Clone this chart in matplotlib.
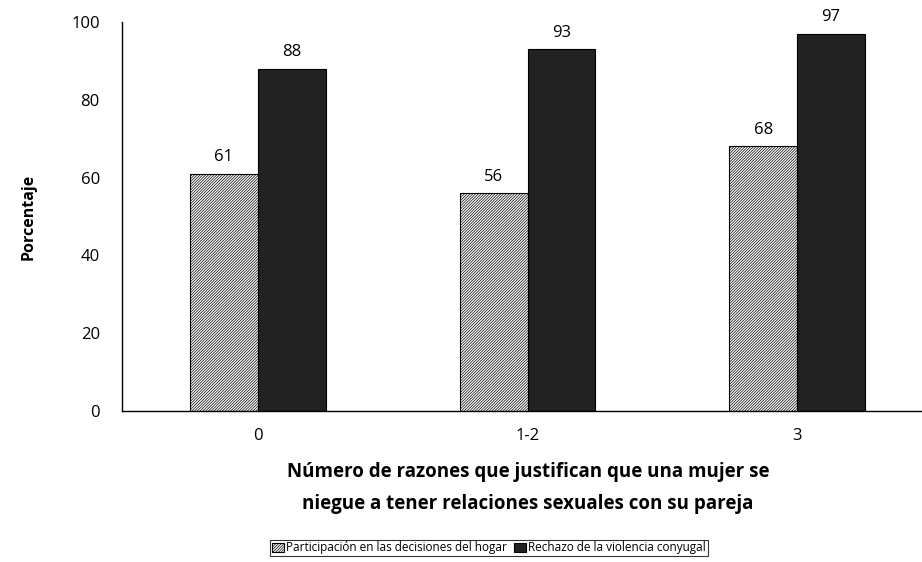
import numpy as np
import matplotlib.pyplot as plt

plt.rcParams['font.family'] = ['Open Sans', 'DejaVu Sans']
plt.rcParams['hatch.linewidth'] = 0.5

categorias = ['0', '1-2', '3']
participacion = [61, 56, 68]
rechazo = [88, 93, 97]
series = ['Participación en las decisiones del hogar', 'Rechazo de la violencia conyugal']

fig = plt.figure(figsize=(9.22, 5.62), dpi=100)
ax = fig.add_axes([122 / 922, 151 / 562, 811 / 922, 389 / 562])

x = np.arange(len(categorias))
w = 0.252
b1 = ax.bar(x - w / 2, participacion, w, color='white', edgecolor='black',
            hatch='/' * 12, linewidth=0.8, label=series[0])
b2 = ax.bar(x + w / 2, rechazo, w, color='#222222', edgecolor='black',
            linewidth=0.8, label=series[1])

for bars in (b1, b2):
    for r in bars:
        ax.annotate(f'{r.get_height():.0f}', (r.get_x() + r.get_width() / 2, r.get_height()),
                    xytext=(0, 6), textcoords='offset points', ha='center', va='bottom',
                    fontsize=12)

ax.set_xlim(-0.504, 2.504)
ax.set_ylim(0, 100)
ax.set_yticks(range(0, 101, 20))
ax.set_xticks(x)
ax.set_xticklabels(categorias)
ax.tick_params(axis='both', length=0, labelsize=12)
ax.tick_params(axis='y', pad=16)
ax.tick_params(axis='x', pad=12)
for s in ['top', 'right']:
    ax.spines[s].set_visible(False)
ax.spines['left'].set_linewidth(1.0)
ax.spines['bottom'].set_linewidth(1.0)

ax.set_ylabel('Porcentaje', fontsize=11.5, fontweight='bold', labelpad=25)
fig.text(528 / 922, 1 - 488 / 562,
         'Número de razones que justifican que una mujer se\nniegue a tener relaciones sexuales con su pareja',
         ha='center', va='center', fontsize=13.5, fontweight='bold', linespacing=1.8)

leg = fig.legend(handles=[b1, b2], loc='center', bbox_to_anchor=(489 / 922, 1 - 548 / 562),
                 ncol=2, fontsize=8.5, frameon=True, fancybox=False, edgecolor='black',
                 handlelength=1.0, handleheight=0.9, handletextpad=0.2, columnspacing=0.6,
                 borderpad=0.15, borderaxespad=0)
leg.get_frame().set_linewidth(0.8)

fig.savefig('out.png', dpi=100)
